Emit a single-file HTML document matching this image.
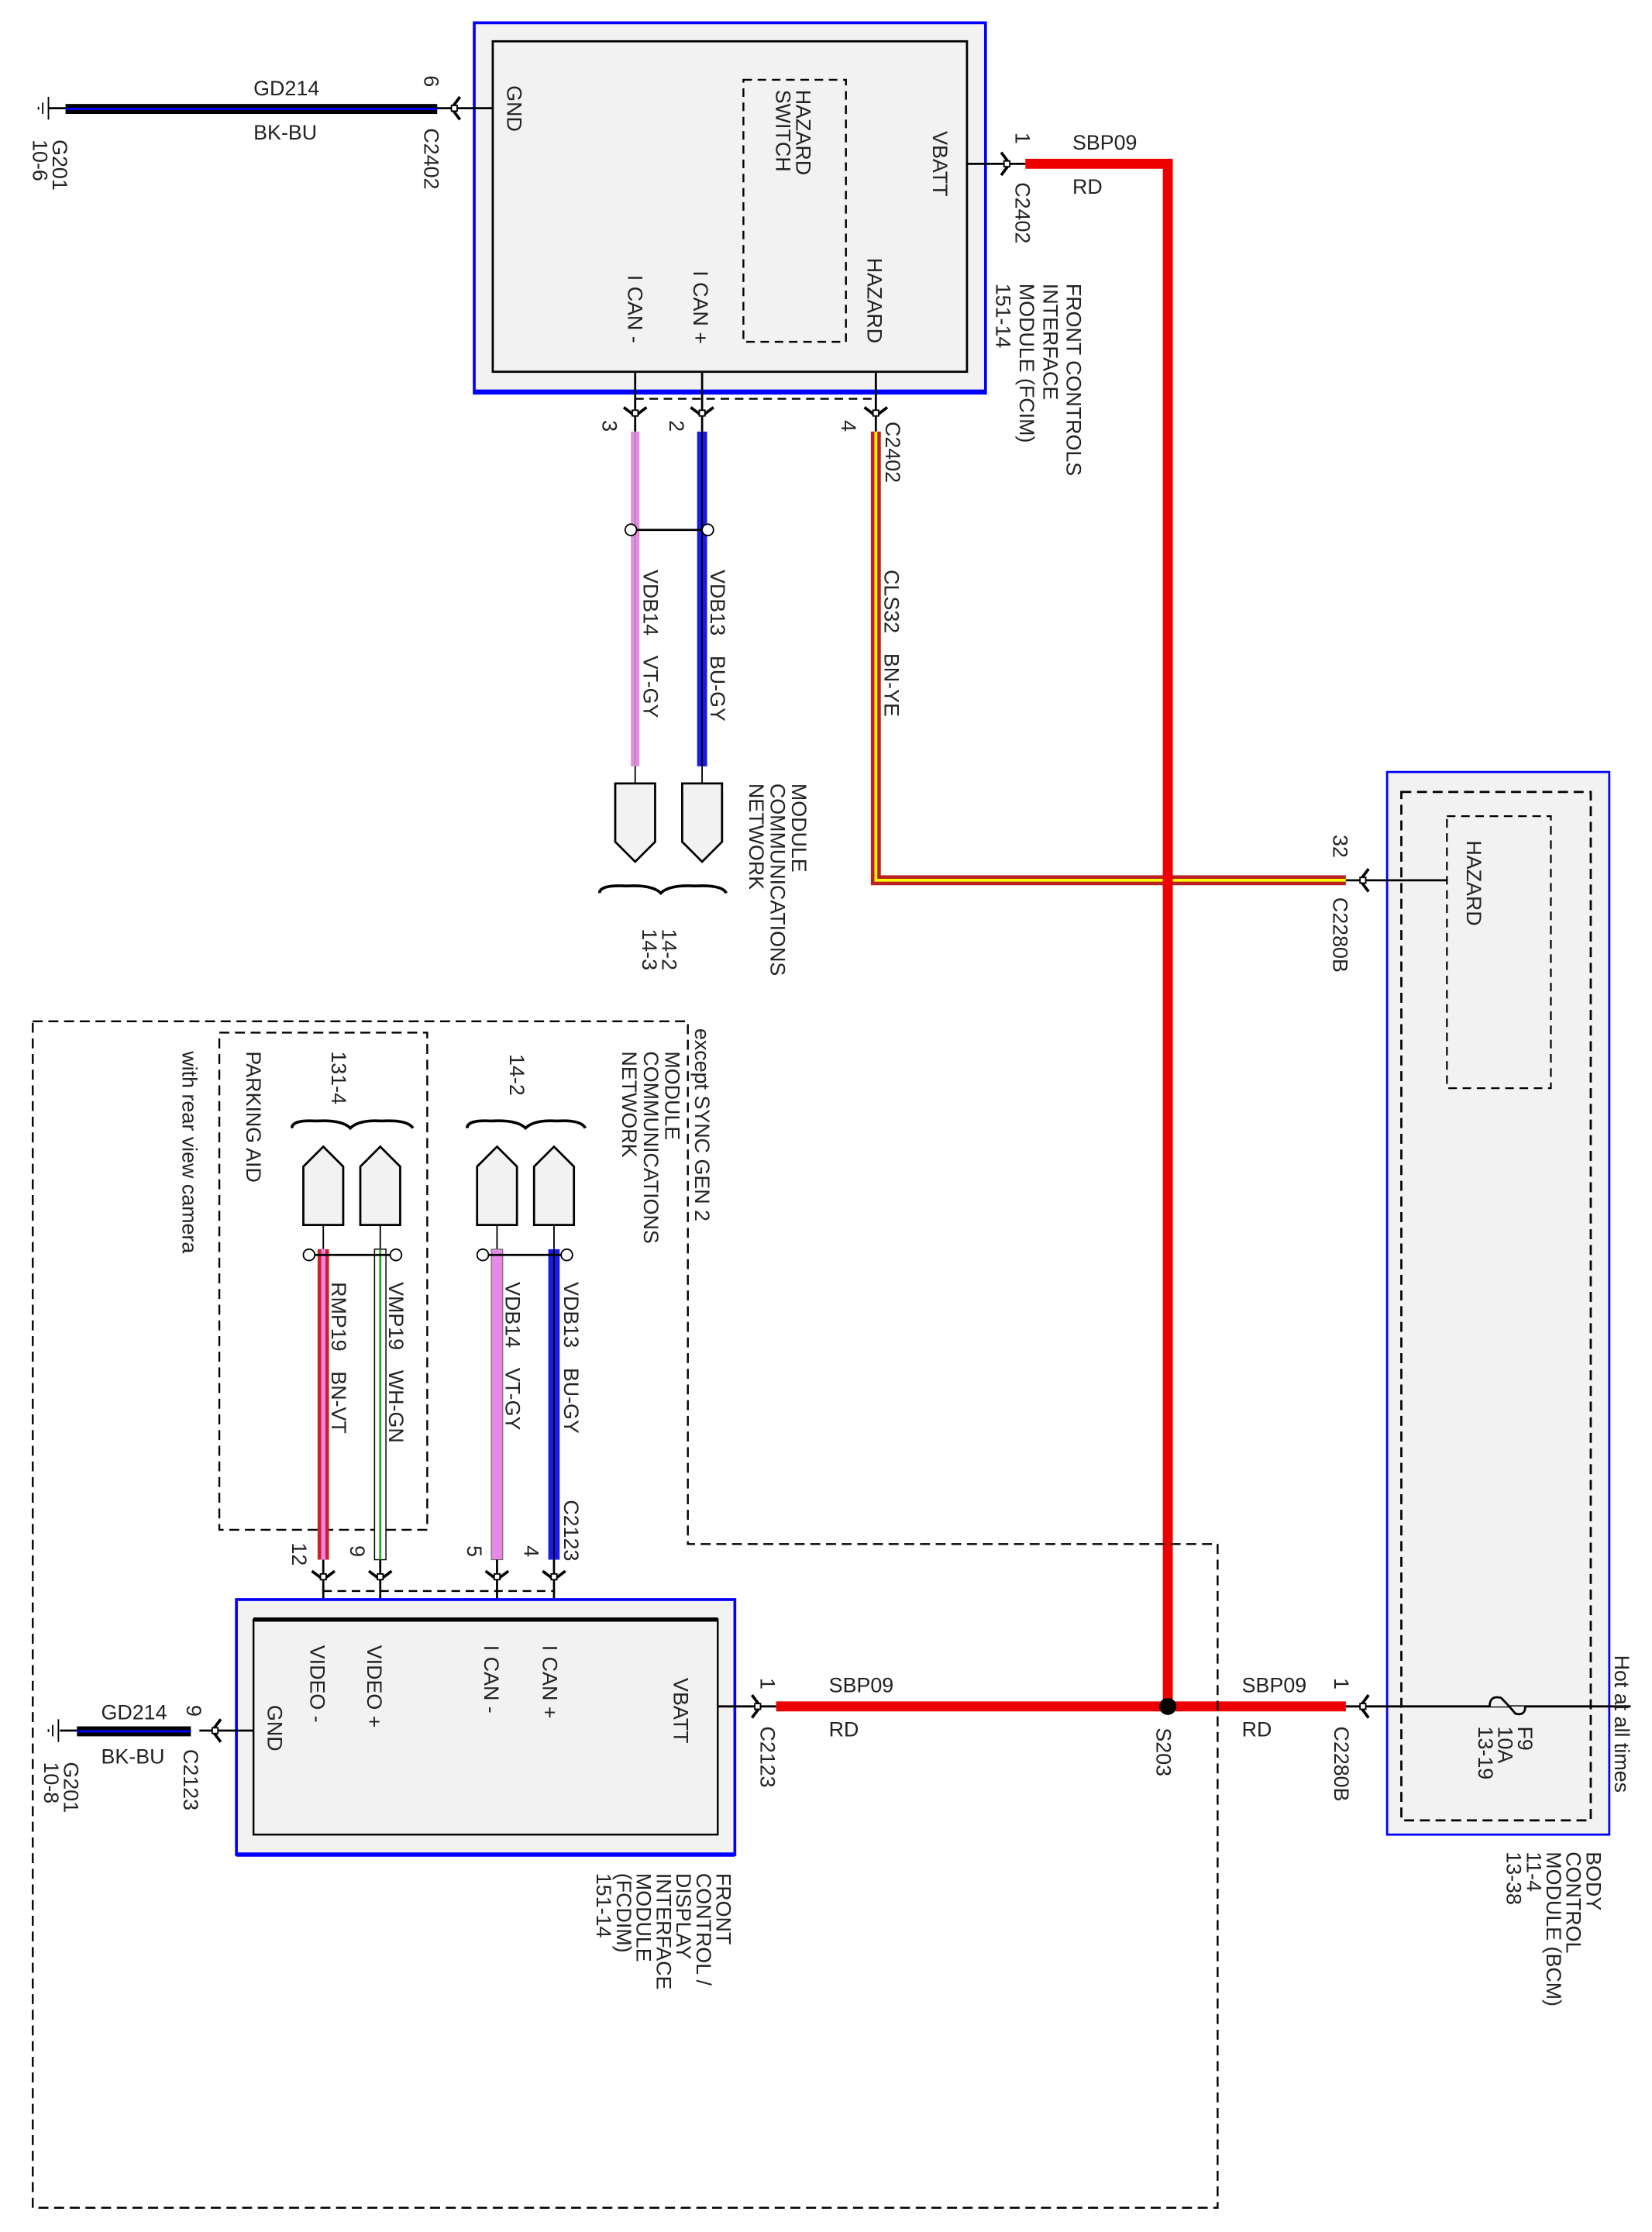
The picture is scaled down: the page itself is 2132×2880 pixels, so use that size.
<!DOCTYPE html>
<html><head><meta charset="utf-8"><style>
html,body{margin:0;padding:0;background:#fff}
svg{display:block}
text{font-family:"Liberation Sans",sans-serif;font-size:14.6px;fill:#222}
</style></head><body>
<svg width="2132" height="2880" viewBox="0 0 1160 1567" xmlns="http://www.w3.org/2000/svg">
<defs>
<g id="chR"><path d="M-5,-8 L1,0 L-5,8" fill="none" stroke="#000" stroke-width="2"/><rect x="-3" y="-2" width="4" height="4" fill="#fff" stroke="#000" stroke-width="1"/></g>
<g id="chD"><path d="M-8,-5 L0,1 L8,-5" fill="none" stroke="#000" stroke-width="2"/><rect x="-2" y="-3" width="4" height="4" fill="#fff" stroke="#000" stroke-width="1"/></g>
<g id="chL"><path d="M5,-8 L-1,0 L5,8" fill="none" stroke="#000" stroke-width="2"/><rect x="-1" y="-2" width="4" height="4" fill="#fff" stroke="#000" stroke-width="1"/></g>
</defs>

<!-- ===== TOP FCIM ===== -->
<rect x="333" y="16" width="359" height="260" fill="#f2f2f2" stroke="#00f" stroke-width="2"/>
<line x1="333" y1="275" x2="692" y2="275" stroke="#00f" stroke-width="3"/>
<rect x="346" y="29" width="333" height="232" fill="#f2f2f2" stroke="#000" stroke-width="1.5"/>
<rect x="522" y="56" width="72" height="184" fill="none" stroke="#000" stroke-width="1.3" stroke-dasharray="6,4"/>
<text transform="translate(356,60) rotate(90)">GND</text>
<text transform="translate(655,92) rotate(90)">VBATT</text>
<text transform="translate(559,63) rotate(90)">HAZARD<tspan x="0" dy="14">SWITCH</tspan></text>
<text transform="translate(609,181) rotate(90)">HAZARD</text>
<text transform="translate(487,190) rotate(90)">I CAN +</text>
<text transform="translate(441,193) rotate(90)">I CAN -</text>
<text transform="translate(749,199) rotate(90)">FRONT CONTROLS<tspan x="0" dy="16.5">INTERFACE</tspan><tspan x="0" dy="16.5">MODULE (FCIM)</tspan><tspan x="0" dy="16.5">151-14</tspan></text>

<!-- GND top -->
<line x1="306" y1="76" x2="346" y2="76" stroke="#000" stroke-width="1.5"/>
<line x1="34" y1="76" x2="46" y2="76" stroke="#000" stroke-width="1.5"/>
<rect x="46" y="73" width="261" height="7" fill="#000"/>
<line x1="46" y1="76.5" x2="307" y2="76.5" stroke="#00f" stroke-width="1.5"/>
<use href="#chL" x="318" y="76"/>
<line x1="34" y1="68" x2="34" y2="84" stroke="#000" stroke-width="1"/>
<line x1="30" y1="72" x2="30" y2="80" stroke="#000" stroke-width="1"/>
<line x1="27" y1="75" x2="27" y2="77" stroke="#000" stroke-width="1"/>
<text x="178" y="67">GD214</text>
<text x="178" y="98">BK-BU</text>
<text transform="translate(298,53) rotate(90)">6</text>
<text transform="translate(298,90) rotate(90)">C2402</text>
<text transform="translate(37,98) rotate(90)">G201<tspan x="0" dy="14">10-6</tspan></text>

<!-- VBATT top -->
<line x1="679" y1="115" x2="720" y2="115" stroke="#000" stroke-width="1.5"/>
<use href="#chR" x="708" y="115"/>
<path d="M720,115 L820,115 L820,1198" fill="none" stroke="#e00" stroke-width="7"/>
<text transform="translate(713,93) rotate(90)">1</text>
<text x="753" y="105">SBP09</text>
<text x="753" y="136">RD</text>
<text transform="translate(713,128) rotate(90)">C2402</text>

<!-- pins bottom top module -->
<line x1="446" y1="261" x2="446" y2="303" stroke="#000" stroke-width="1.5"/>
<line x1="493" y1="261" x2="493" y2="303" stroke="#000" stroke-width="1.5"/>
<line x1="615" y1="261" x2="615" y2="303" stroke="#000" stroke-width="1.5"/>
<line x1="446" y1="280" x2="615" y2="280" stroke="#000" stroke-width="1.3" stroke-dasharray="6,4"/>
<use href="#chD" x="446" y="291"/>
<use href="#chD" x="493" y="291"/>
<use href="#chD" x="615" y="291"/>
<text transform="translate(423,295) rotate(90)">3</text>
<text transform="translate(470,295) rotate(90)">2</text>
<text transform="translate(591,295) rotate(90)">4</text>
<text transform="translate(622,296) rotate(90)">C2402</text>

<!-- CAN wires top -->
<rect x="443" y="303" width="6" height="235" fill="#e68ae6"/>
<line x1="446" y1="303" x2="446" y2="538" stroke="#999" stroke-width="1"/>
<rect x="489.5" y="303" width="7" height="235" fill="#1a1ae6"/>
<line x1="493" y1="303" x2="493" y2="538" stroke="#000" stroke-width="1"/>
<path d="M440,372 L500,372" stroke="#000" stroke-width="1.5"/>
<ellipse cx="443" cy="372" rx="4" ry="4" fill="#fff" stroke="#000"/>
<ellipse cx="497" cy="372" rx="4" ry="4" fill="#fff" stroke="#000"/>
<line x1="446" y1="538" x2="446" y2="550" stroke="#000"/>
<line x1="493" y1="538" x2="493" y2="550" stroke="#000"/>
<text transform="translate(452,400) rotate(90)">VDB14<tspan dx="14">VT-GY</tspan></text>
<text transform="translate(499,400) rotate(90)">VDB13<tspan dx="14">BU-GY</tspan></text>
<path d="M432,550 L460,550 L460,591 L446,605 L432,591 Z" fill="#f2f2f2" stroke="#000" stroke-width="1.5"/>
<path d="M479,550 L507,550 L507,591 L493,605 L479,591 Z" fill="#f2f2f2" stroke="#000" stroke-width="1.5"/>
<path d="M421,627 Q421,621 440,622 Q458,621 464,627 Q470,621 488,622 Q507,621 510,627" fill="none" stroke="#000" stroke-width="2"/>
<text transform="translate(556,550) rotate(90)">MODULE<tspan x="0" dy="15">COMMUNICATIONS</tspan><tspan x="0" dy="15">NETWORK</tspan></text>
<text transform="translate(465,652) rotate(90)">14-2<tspan x="0" dy="14">14-3</tspan></text>

<!-- hazard wire -->
<path d="M615,303 L615,618 L945,618" fill="none" stroke="#b22" stroke-width="7"/>
<path d="M615,303 L615,618 L945,618" fill="none" stroke="#ff0" stroke-width="2"/>
<rect x="816.5" y="612" width="7" height="12" fill="#e00"/>
<text transform="translate(621,400) rotate(90)">CLS32<tspan dx="14">BN-YE</tspan></text>

<!-- ===== BCM ===== -->
<rect x="974" y="542" width="156" height="746" fill="#f2f2f2" stroke="#00f" stroke-width="1.5"/>
<rect x="984" y="556" width="133" height="722" fill="none" stroke="#000" stroke-width="1.5" stroke-dasharray="7,4"/>
<rect x="1016" y="573" width="73" height="191" fill="none" stroke="#000" stroke-width="1.2" stroke-dasharray="6,4"/>
<text transform="translate(1030,590) rotate(90)">HAZARD</text>
<line x1="945" y1="618" x2="1016" y2="618" stroke="#000" stroke-width="1.5"/>
<use href="#chL" x="956" y="618"/>
<text transform="translate(936,586) rotate(90)">32</text>
<text transform="translate(936,630) rotate(90)">C2280B</text>
<line x1="945" y1="1198" x2="1145" y2="1198" stroke="#000" stroke-width="1.5"/>
<use href="#chL" x="956" y="1198"/>
<path d="M1046,1198 Q1046,1190 1054,1192 Q1060,1198 1064,1203 Q1071,1205 1071,1198" fill="#f2f2f2" stroke="#000" stroke-width="1.5"/>
<text transform="translate(1066,1212) rotate(90)">F9<tspan x="0" dy="14">10A</tspan><tspan x="0" dy="14">13-19</tspan></text>
<text transform="translate(1134,1162) rotate(90)">Hot at all times</text>
<text transform="translate(1114,1300) rotate(90)">BODY<tspan x="0" dy="14">CONTROL</tspan><tspan x="0" dy="14">MODULE (BCM)</tspan><tspan x="0" dy="14">11-4</tspan><tspan x="0" dy="14">13-38</tspan></text>

<!-- bottom red -->
<line x1="545" y1="1198" x2="945" y2="1198" stroke="#e00" stroke-width="7"/>
<circle cx="820" cy="1198" r="6" fill="#000"/>
<text x="582" y="1188">SBP09</text>
<text x="582" y="1219">RD</text>
<text x="872" y="1188">SBP09</text>
<text x="872" y="1219">RD</text>
<text transform="translate(812,1213) rotate(90)">S203</text>
<text transform="translate(937,1178) rotate(90)">1</text>
<text transform="translate(937,1212) rotate(90)">C2280B</text>
<text transform="translate(534,1178) rotate(90)">1</text>
<text transform="translate(534,1212) rotate(90)">C2123</text>

<!-- outer dashed region -->
<path d="M23,717 L483,717 L483,1084 L855,1084 L855,1550 L23,1550 Z" fill="none" stroke="#000" stroke-width="1.3" stroke-dasharray="7,4"/>
<text transform="translate(488,722) rotate(90)">except SYNC GEN 2</text>
<rect x="154" y="725" width="146" height="349" fill="none" stroke="#000" stroke-width="1.3" stroke-dasharray="7,4"/>
<text transform="translate(173,738) rotate(90)">PARKING AID</text>
<text transform="translate(128,738) rotate(90)">with rear view camera</text>
<text transform="translate(233,738) rotate(90)">131-4</text>
<text transform="translate(358,740) rotate(90)">14-2</text>
<text transform="translate(467,738) rotate(90)">MODULE<tspan x="0" dy="15">COMMUNICATIONS</tspan><tspan x="0" dy="15">NETWORK</tspan></text>

<path d="M205,792 Q205,786 222,787 Q240,786 246,792 Q252,786 268,787 Q286,786 290,792" fill="none" stroke="#000" stroke-width="2"/>
<path d="M328,792 Q328,786 345,787 Q363,786 369,792 Q375,786 391,787 Q408,786 411,792" fill="none" stroke="#000" stroke-width="2"/>
<path d="M213,860 L241,860 L241,819 L227,805 L213,819 Z" fill="#f2f2f2" stroke="#000" stroke-width="1.5"/>
<path d="M253,860 L281,860 L281,819 L267,805 L253,819 Z" fill="#f2f2f2" stroke="#000" stroke-width="1.5"/>
<path d="M335,860 L363,860 L363,819 L349,805 L335,819 Z" fill="#f2f2f2" stroke="#000" stroke-width="1.5"/>
<path d="M375,860 L403,860 L403,819 L389,805 L375,819 Z" fill="#f2f2f2" stroke="#000" stroke-width="1.5"/>
<line x1="227" y1="860" x2="227" y2="877" stroke="#000"/>
<line x1="267" y1="860" x2="267" y2="877" stroke="#000"/>
<line x1="349" y1="860" x2="349" y2="877" stroke="#000"/>
<line x1="389" y1="860" x2="389" y2="877" stroke="#000"/>

<!-- lower wires -->
<rect x="223" y="877" width="8" height="218" fill="#c22"/>
<rect x="225.5" y="877" width="3" height="218" fill="#f080f0"/>
<rect x="263" y="877" width="8" height="218" fill="#fff" stroke="#000" stroke-width="0.8"/>
<line x1="267" y1="877" x2="267" y2="1095" stroke="#2a2" stroke-width="1.5"/>
<rect x="345" y="877" width="8" height="218" fill="#e68ae6" stroke="#666" stroke-width="0.6"/>
<rect x="385" y="877" width="8" height="218" fill="#1a1ae6"/>
<line x1="389" y1="877" x2="389" y2="1095" stroke="#000" stroke-width="1"/>
<line x1="215" y1="881" x2="280" y2="881" stroke="#000" stroke-width="1.5"/>
<circle cx="217" cy="881" r="4" fill="#fff" stroke="#000"/>
<circle cx="278" cy="881" r="4" fill="#fff" stroke="#000"/>
<line x1="337" y1="881" x2="400" y2="881" stroke="#000" stroke-width="1.5"/>
<circle cx="339" cy="881" r="4" fill="#fff" stroke="#000"/>
<circle cx="398" cy="881" r="4" fill="#fff" stroke="#000"/>
<text transform="translate(233,900) rotate(90)">RMP19<tspan dx="14">BN-VT</tspan></text>
<text transform="translate(273,900) rotate(90)">VMP19<tspan dx="14">WH-GN</tspan></text>
<text transform="translate(355,900) rotate(90)">VDB14<tspan dx="14">VT-GY</tspan></text>
<text transform="translate(396,900) rotate(90)">VDB13<tspan dx="14">BU-GY</tspan></text>
<text transform="translate(396,1053) rotate(90)">C2123</text>
<text transform="translate(205,1083) rotate(90)">12</text>
<text transform="translate(246,1085) rotate(90)">9</text>
<text transform="translate(328,1085) rotate(90)">5</text>
<text transform="translate(368,1085) rotate(90)">4</text>
<line x1="227" y1="1095" x2="227" y2="1137" stroke="#000" stroke-width="1.5"/>
<line x1="267" y1="1095" x2="267" y2="1137" stroke="#000" stroke-width="1.5"/>
<line x1="349" y1="1095" x2="349" y2="1137" stroke="#000" stroke-width="1.5"/>
<line x1="389" y1="1095" x2="389" y2="1137" stroke="#000" stroke-width="1.5"/>
<line x1="227" y1="1117" x2="389" y2="1117" stroke="#000" stroke-width="1.3" stroke-dasharray="6,4"/>

<!-- FCDIM -->
<rect x="166" y="1123" width="350" height="179" fill="#f2f2f2" stroke="#00f" stroke-width="2"/>
<line x1="166" y1="1302" x2="516" y2="1302" stroke="#00f" stroke-width="3"/>
<rect x="178" y="1137" width="326" height="151" fill="#f2f2f2" stroke="#000" stroke-width="1.3"/>
<line x1="178" y1="1137" x2="504" y2="1137" stroke="#000" stroke-width="3"/>
<use href="#chD" x="227" y="1108"/>
<use href="#chD" x="267" y="1108"/>
<use href="#chD" x="349" y="1108"/>
<use href="#chD" x="389" y="1108"/>
<text transform="translate(188,1197) rotate(90)">GND</text>
<text transform="translate(218,1155) rotate(90)">VIDEO -</text>
<text transform="translate(258,1155) rotate(90)">VIDEO +</text>
<text transform="translate(340,1155) rotate(90)">I CAN -</text>
<text transform="translate(381,1155) rotate(90)">I CAN +</text>
<text transform="translate(473,1178) rotate(90)">VBATT</text>
<text transform="translate(503,1315) rotate(90)">FRONT<tspan x="0" dy="14">CONTROL /</tspan><tspan x="0" dy="14">DISPLAY</tspan><tspan x="0" dy="14">INTERFACE</tspan><tspan x="0" dy="14">MODULE</tspan><tspan x="0" dy="14">(FCDIM)</tspan><tspan x="0" dy="14">151-14</tspan></text>
<line x1="504" y1="1198" x2="545" y2="1198" stroke="#000" stroke-width="1.5"/>
<use href="#chR" x="533" y="1198"/>

<!-- GND bottom -->
<line x1="140" y1="1215" x2="178" y2="1215" stroke="#000" stroke-width="1.5"/>
<line x1="42" y1="1215" x2="55" y2="1215" stroke="#000" stroke-width="1.5"/>
<rect x="54" y="1212" width="80" height="7" fill="#000"/>
<line x1="54" y1="1215.5" x2="134" y2="1215.5" stroke="#00f" stroke-width="1.5"/>
<use href="#chL" x="150" y="1215"/>
<line x1="41" y1="1207" x2="41" y2="1223" stroke="#000" stroke-width="1"/>
<line x1="37" y1="1211" x2="37" y2="1219" stroke="#000" stroke-width="1"/>
<line x1="34" y1="1214" x2="34" y2="1216" stroke="#000" stroke-width="1"/>
<text x="71" y="1207">GD214</text>
<text x="71" y="1238">BK-BU</text>
<text transform="translate(131,1197) rotate(90)">9</text>
<text transform="translate(129,1228) rotate(90)">C2123</text>
<text transform="translate(45,1237) rotate(90)">G201<tspan x="0" dy="14">10-8</tspan></text>
</svg>
</body></html>
